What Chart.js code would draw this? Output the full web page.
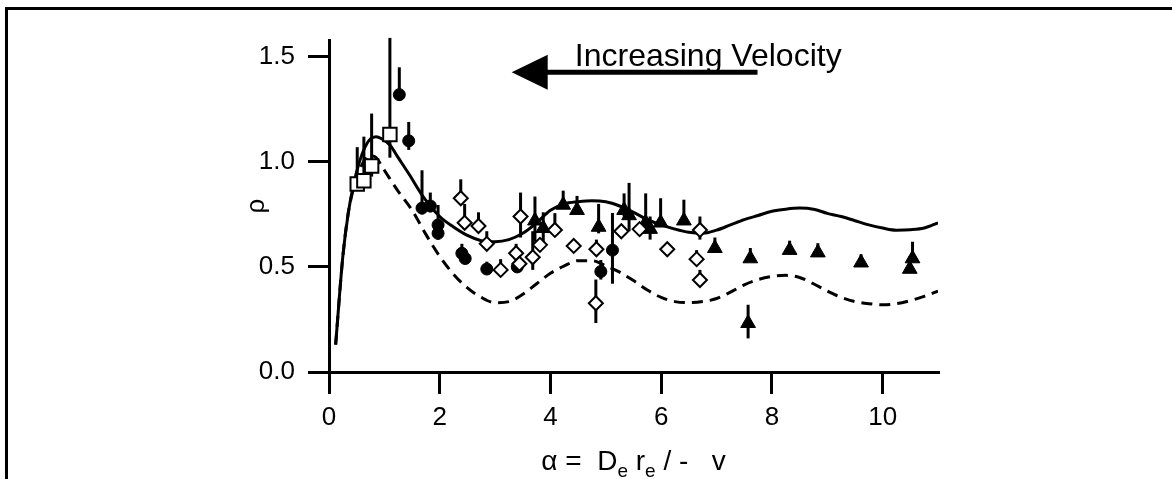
<!DOCTYPE html>
<html>
<head>
<meta charset="utf-8">
<script src="https://cdn.jsdelivr.net/npm/chart.js@4.4.1/dist/chart.umd.min.js"></script>
<style>
  body { margin: 0; background: #fff; }
  #wrap { position: relative; width: 1172px; height: 479px; overflow: hidden; }
  #rahmen { position: absolute; left: 5px; top: 7px; width: 1300px; height: 600px;
            border-left: 3px solid #000; border-top: 3px solid #000; }
  canvas { position: absolute; left: 0; top: 0; }
</style>
</head>
<body>
<div id="wrap">
  <div id="rahmen"></div>
  <canvas id="rho" width="1172" height="479"></canvas>
</div>
<script>
const xTicks = [0, 2, 4, 6, 8, 10];
const yTicks = [0, 0.5, 1.0, 1.5];

// theory, solid line
const solidX = [0.12, 0.25, 0.35, 0.45, 0.55, 0.65, 0.75, 0.85, 0.95, 1.10, 1.25, 1.45, 1.70, 2.00, 2.25, 2.50, 2.75,
  3.00, 3.25, 3.50, 3.75, 4.00, 4.25, 4.50, 4.75, 5.00, 5.25, 5.50, 5.75, 6.00, 6.25, 6.50, 6.75, 7.00,
  7.25, 7.50, 7.75, 8.00, 8.25, 8.50, 8.75, 9.00, 9.25, 9.50, 9.75, 10.00, 10.25, 10.50, 10.75, 11.00];
const solidY = [0.13, 0.55, 0.76, 0.90, 1.00, 1.07, 1.11, 1.12, 1.11, 1.08, 1.02, 0.94, 0.835, 0.74, 0.69, 0.65, 0.625,
  0.62, 0.63, 0.66, 0.71, 0.77, 0.80, 0.81, 0.815, 0.81, 0.79, 0.76, 0.725, 0.70, 0.68, 0.665, 0.66, 0.675,
  0.70, 0.725, 0.745, 0.765, 0.775, 0.78, 0.775, 0.755, 0.74, 0.72, 0.70, 0.685, 0.675, 0.677, 0.685, 0.71];

// theory, dashed line
const dashX = [0.12, 0.25, 0.35, 0.45, 0.55, 0.65, 0.75, 0.85, 1.00, 1.25, 1.50, 1.75, 2.00, 2.25, 2.50, 2.75,
  3.00, 3.25, 3.50, 3.75, 4.00, 4.25, 4.50, 4.75, 5.00, 5.25, 5.50, 5.75, 6.00, 6.25, 6.50, 6.75, 7.00,
  7.25, 7.50, 7.75, 8.00, 8.25, 8.50, 8.75, 9.00, 9.25, 9.50, 9.75, 10.00, 10.25, 10.50, 10.75, 11.00];
const dashY = [0.13, 0.55, 0.76, 0.88, 0.96, 1.01, 1.03, 1.02, 0.96, 0.86, 0.77, 0.655, 0.55, 0.465, 0.40, 0.355,
  0.33, 0.335, 0.37, 0.42, 0.47, 0.505, 0.53, 0.53, 0.505, 0.475, 0.435, 0.39, 0.355, 0.335, 0.33, 0.335, 0.35,
  0.38, 0.415, 0.44, 0.455, 0.46, 0.45, 0.42, 0.385, 0.355, 0.335, 0.325, 0.32, 0.325, 0.34, 0.36, 0.385];

// open squares
const sqX = [0.51, 0.63, 0.77, 1.10];
const sqY = [0.895, 0.91, 0.98, 1.13];
const sqHi = [1.07, 1.12, 1.23, 1.59];
const sqLo = [0.87, 0.88, 0.93, 1.02];

// open diamonds
const diaX = [2.38, 2.45, 2.70, 2.85, 3.10, 3.38, 3.44, 3.46, 3.68, 3.81, 4.08, 4.42, 4.82, 4.83, 5.28, 5.61, 6.11, 6.64, 6.70, 6.70];
const diaY = [0.827, 0.71, 0.695, 0.61, 0.486, 0.565, 0.515, 0.74, 0.546, 0.605, 0.676, 0.60, 0.327, 0.584, 0.67, 0.68, 0.584, 0.537, 0.438, 0.676];
const diaHi = [0.917, 0.80, 0.76, 0.67, 0.537, 0.61, 0.515, 0.854, 0.67, 0.605, 0.756, 0.60, 0.44, 0.63, 0.67, 0.68, 0.584, 0.58, 0.486, 0.74];
const diaLo = [0.80, 0.69, 0.67, 0.59, 0.47, 0.565, 0.49, 0.64, 0.486, 0.58, 0.676, 0.60, 0.233, 0.57, 0.67, 0.68, 0.584, 0.537, 0.42, 0.63];

// filled circles
const circX = [1.27, 1.44, 1.68, 1.83, 1.97, 1.97, 2.40, 2.46, 2.85, 3.40, 4.91, 5.12];
const circY = [1.32, 1.10, 0.78, 0.79, 0.70, 0.66, 0.565, 0.54, 0.49, 0.50, 0.478, 0.58];
const circHi = [1.45, 1.19, 0.96, 0.854, 0.795, 0.66, 0.61, 0.54, 0.525, 0.50, 0.533, 0.757];
const circLo = [1.29, 1.057, 0.75, 0.76, 0.68, 0.63, 0.55, 0.54, 0.49, 0.50, 0.44, 0.42];

// filled triangles
const triX = [3.72, 3.87, 4.23, 4.48, 4.87, 5.33, 5.42, 5.72, 5.80, 5.99, 6.41, 6.97, 7.57, 7.61, 8.32, 8.83, 9.61, 10.49, 10.54];
const triY = [0.72, 0.684, 0.795, 0.77, 0.69, 0.77, 0.745, 0.71, 0.68, 0.71, 0.72, 0.589, 0.232, 0.54, 0.58, 0.568, 0.52, 0.49, 0.54];
const triHi = [0.835, 0.76, 0.863, 0.838, 0.80, 0.85, 0.90, 0.85, 0.74, 0.827, 0.82, 0.64, 0.32, 0.59, 0.625, 0.613, 0.56, 0.55, 0.62];
const triLo = [0.62, 0.61, 0.79, 0.77, 0.66, 0.74, 0.67, 0.70, 0.63, 0.70, 0.72, 0.589, 0.16, 0.54, 0.58, 0.568, 0.52, 0.49, 0.54];

// x axis title, [text, subscript?]
const xTitel = [["\u03B1 =  D", false], ["e", true], [" r", false], ["e", true], [" / -   v", false]];
const pfeilText = "Increasing Velocity";

const schrift = "'Liberation Sans', Arial, sans-serif";

function punkte(xs, ys) {
  return xs.map((x, i) => ({ x: x, y: ys[i] }));
}

// vertical error bars, drawn behind the markers
const fehlerbalken = {
  id: "fehlerbalken",
  beforeDatasetsDraw(chart) {
    const ctx = chart.ctx;
    const xs = chart.scales.x, ys = chart.scales.y;
    ctx.save();
    ctx.strokeStyle = "#000";
    ctx.lineWidth = 3;
    chart.data.datasets.forEach((ds) => {
      if (!ds.oben) return;
      ds.data.forEach((p, i) => {
        const px = xs.getPixelForValue(p.x);
        ctx.beginPath();
        ctx.moveTo(px, ys.getPixelForValue(ds.oben[i]));
        ctx.lineTo(px, ys.getPixelForValue(ds.unten[i]));
        ctx.stroke();
      });
    });
    ctx.restore();
  }
};

// arrow with "Increasing Velocity" and the x axis title with subscripts
const beschriftung = {
  id: "beschriftung",
  afterDraw(chart) {
    const ctx = chart.ctx;
    const xs = chart.scales.x, ys = chart.scales.y;
    ctx.save();
    ctx.fillStyle = "#000";
    ctx.strokeStyle = "#000";

    const py = ys.getPixelForValue(1.426);
    const spitze = xs.getPixelForValue(3.30);
    const basis = xs.getPixelForValue(3.95);
    const ende = xs.getPixelForValue(7.74);
    ctx.lineWidth = 5;
    ctx.beginPath();
    ctx.moveTo(basis - 2, py);
    ctx.lineTo(ende, py);
    ctx.stroke();
    ctx.beginPath();
    ctx.moveTo(spitze, py);
    ctx.lineTo(basis, py - 17.5);
    ctx.lineTo(basis, py + 17.5);
    ctx.closePath();
    ctx.fill();

    ctx.font = "32px " + schrift;
    ctx.textBaseline = "alphabetic";
    ctx.textAlign = "left";
    ctx.fillText(pfeilText, xs.getPixelForValue(4.44), ys.getPixelForValue(1.457));

    // x axis title
    const gross = "28px " + schrift, klein = "19px " + schrift;
    let breite = 0;
    xTitel.forEach(([t, sub]) => {
      ctx.font = sub ? klein : gross;
      breite += ctx.measureText(t).width;
    });
    let x = (chart.chartArea.left + chart.chartArea.right) / 2 - breite / 2;
    const basisY = chart.chartArea.bottom + 98;
    xTitel.forEach(([t, sub]) => {
      ctx.font = sub ? klein : gross;
      ctx.fillText(t, x, sub ? basisY + 7 : basisY);
      x += ctx.measureText(t).width;
    });
    ctx.restore();
  }
};

const tickFont = { family: schrift, size: 26 };

new Chart(document.getElementById("rho"), {
  type: "scatter",
  data: {
    datasets: [
      {
        data: punkte(sqX, sqY), oben: sqHi, unten: sqLo,
        pointStyle: "rect", pointRadius: 9.5, borderColor: "#000", backgroundColor: "#fff", borderWidth: 2,
      },
      {
        data: punkte(diaX, diaY), oben: diaHi, unten: diaLo,
        pointStyle: "rectRot", pointRadius: 7, borderColor: "#000", backgroundColor: "#fff", borderWidth: 2,
      },
      {
        data: punkte(circX, circY), oben: circHi, unten: circLo,
        pointStyle: "circle", pointRadius: 6, borderColor: "#000", backgroundColor: "#000", borderWidth: 1,
      },
      {
        data: punkte(triX, triY), oben: triHi, unten: triLo,
        pointStyle: "triangle", pointRadius: 8.5, borderColor: "#000", backgroundColor: "#000", borderWidth: 1,
      },
      {
        data: punkte(solidX, solidY), showLine: true, pointRadius: 0,
        borderColor: "#000", borderWidth: 3, cubicInterpolationMode: "monotone",
      },
      {
        data: punkte(dashX, dashY), showLine: true, pointRadius: 0,
        borderColor: "#000", borderWidth: 3, borderDash: [11, 7], cubicInterpolationMode: "monotone",
      },
    ],
  },
  options: {
    responsive: false,
    animation: false,
    events: [],
    layout: { padding: { left: 0, top: 40, right: 234, bottom: 0 } },
    plugins: { legend: { display: false }, tooltip: { enabled: false } },
    scales: {
      x: {
        type: "linear", min: 0, max: 11,
        afterBuildTicks: (s) => { s.ticks = xTicks.map((v) => ({ value: v })); },
        afterFit: (s) => { s.height = 107; },
        border: { color: "#000", width: 3 },
        grid: { drawOnChartArea: false, color: "#000", tickLength: 22, lineWidth: 3 },
        ticks: { color: "#000", font: tickFont, padding: 8, maxRotation: 0 },
        title: { display: false },
      },
      y: {
        type: "linear", min: 0, max: 1.58,
        afterBuildTicks: (s) => { s.ticks = yTicks.map((v) => ({ value: v })); },
        afterFit: (s) => { s.width = 329; },
        border: { color: "#000", width: 3 },
        grid: { drawOnChartArea: false, color: "#000", tickLength: 21, lineWidth: 3 },
        ticks: { color: "#000", font: tickFont, padding: 13, callback: (v) => v.toFixed(1) },
        title: { display: true, text: "\u03C1", color: "#000", font: { family: schrift, size: 26 }, padding: { top: 241, bottom: 0 } },
      },
    },
  },
  plugins: [fehlerbalken, beschriftung],
});
</script>
</body>
</html>
